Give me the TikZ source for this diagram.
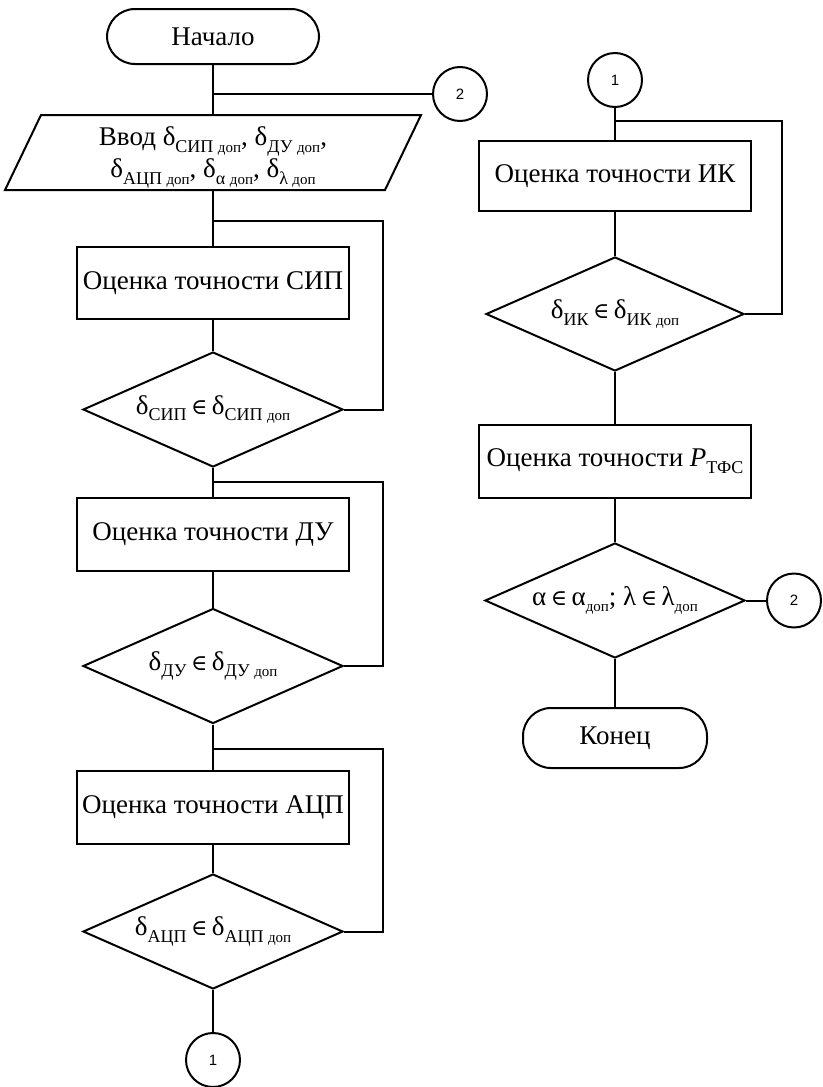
\documentclass[tikz,border=0pt]{standalone}
\usepackage{fontspec}
\setmainfont{Liberation Serif}
\newfontfamily\numfont{Liberation Sans}
\newfontfamily\symfont{DejaVu Serif}
\usetikzlibrary{shapes.geometric}
\newcommand{\lo}[1]{\raisebox{-0.25em}{\fontsize{18}{18}\selectfont #1}}
\newcommand{\dop}{{\fontsize{15}{15}\selectfont доп}}
\newcommand{\inn}{{\symfont\fontsize{22}{22}\selectfont ∈}}
\begin{document}
\begin{tikzpicture}[x=1pt,y=-1pt,line width=2pt,font=\fontsize{27}{32}\selectfont,
  box/.style={draw,rectangle,minimum width=272pt,minimum height=72pt,inner sep=0pt},
  dec/.style={draw,diamond,minimum width=260pt,minimum height=115pt,inner sep=0pt},
  term/.style={draw,rectangle,rounded corners=28pt,inner sep=0pt},
  conn/.style={draw,circle,minimum size=54pt,inner sep=0pt,font=\numfont\fontsize{15}{15}\selectfont}]
\useasboundingbox (0,0) rectangle (822,1087);
% left column
\node[term,minimum width=212pt,minimum height=55pt] (start) at (213,36.5) {Начало};
\node[conn] (c2a) at (460,94) {2};
\coordinate (j0) at (213,94);
\node[minimum width=378pt,minimum height=73pt,inner sep=0pt,
  label={[yshift=-5pt,align=center]center:Ввод δ\lo{СИП \dop}, δ\lo{ДУ \dop},\\δ\lo{АЦП \dop}, δ\lo{α \dop}, δ\lo{λ \dop}}] (in) at (213,152.5) {};
\draw ([xshift=18pt]in.north west) -- ([xshift=18pt]in.north east)
  -- ([xshift=-18pt]in.south east) -- ([xshift=-18pt]in.south west) -- cycle;
\coordinate (j1) at (213,221);
\coordinate (r1) at (383,221);
\node[box] (b1) at (213,283) {Оценка точности СИП};
\node[dec,label={center:δ\lo{СИП}\,\inn\,δ\lo{СИП \dop}}] (d1) at (213,409.5) {};
\coordinate (j2) at (213,482);
\coordinate (r2) at (383,482);
\node[box,minimum height=73pt] (b2) at (213,534.5) {Оценка точности ДУ};
\node[dec,label={center:δ\lo{ДУ}\,\inn\,δ\lo{ДУ \dop}}] (d2) at (213,666) {};
\coordinate (j3) at (213,749);
\coordinate (r3) at (383,749);
\node[box,minimum height=73pt] (b3) at (213,807.5) {Оценка точности АЦП};
\node[dec,label={center:δ\lo{АЦП}\,\inn\,δ\lo{АЦП \dop}}] (d3) at (213,931.5) {};
\node[conn] (c1a) at (213,1060) {1};
\draw (start) -- (in);
\draw (j0) -- (c2a);
\draw (in) -- (b1);
\draw (b1) -- (d1);
\draw (j1) -- (r1) |- (d1.east);
\draw (d1) -- (b2);
\draw (b2) -- (d2);
\draw (j2) -- (r2) |- (d2.east);
\draw (d2) -- (b3);
\draw (b3) -- (d3);
\draw (j3) -- (r3) |- (d3.east);
\draw (d3) -- (c1a);
% right column
\node[conn] (c1b) at (615,80) {1};
\coordinate (j4) at (615,121);
\coordinate (r4) at (782,121);
\node[box,minimum height=70pt] (b4) at (615,176) {Оценка точности ИК};
\node[dec,minimum width=258pt,minimum height=114pt,label={center:δ\lo{ИК}\,\inn\,δ\lo{ИК \dop}}] (d4) at (615,314) {};
\node[box,minimum height=73pt] (b5) at (615,461.5) {Оценка точности \textit{P}\lo{ТФС}};
\node[dec,label={center:α\,\inn\,α\lo{\dop}; λ\,\inn\,λ\lo{\dop}}] (d5) at (615,600.5) {};
\node[conn] (c2b) at (794,600.5) {2};
\node[term,minimum width=184pt,minimum height=60pt] (end) at (615,738) {Конец};
\draw (c1b) -- (b4);
\draw (j4) -- (r4) |- (d4.east);
\draw (b4) -- (d4);
\draw (d4) -- (b5);
\draw (b5) -- (d5);
\draw (d5) -- (c2b);
\draw (d5) -- (end);
\end{tikzpicture}
\end{document}
